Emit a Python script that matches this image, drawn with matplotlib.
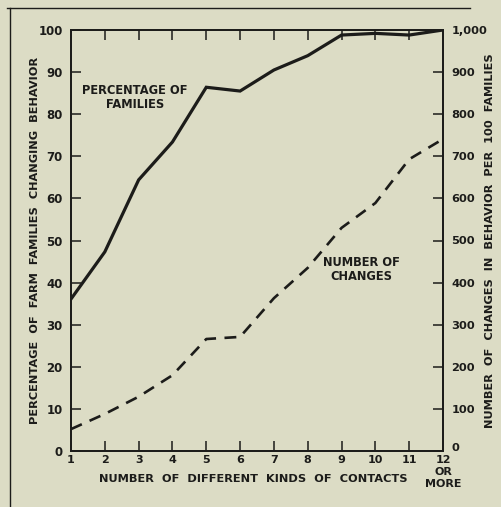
import matplotlib
matplotlib.use("Agg")
import matplotlib.pyplot as plt
from matplotlib.lines import Line2D

contacts = [1, 2, 3, 4, 5, 6, 7, 8, 9, 10, 11, 12]
x_labels = ["1", "2", "3", "4", "5", "6", "7", "8", "9", "10", "11", "12\nOR\nMORE"]
pct_families = [36.1, 47.3, 64.4, 73.4, 86.4, 85.5, 90.5, 93.9, 98.8, 99.2, 98.8, 100.0]
num_changes = [52, 88, 129, 180, 266, 271, 363, 435, 530, 589, 693, 741]
left_ticks = [0, 10, 20, 30, 40, 50, 60, 70, 80, 90, 100]
right_ticks = [0, 100, 200, 300, 400, 500, 600, 700, 800, 900, 1000]
right_tick_labels = ["0", "100", "200", "300", "400", "500", "600", "700", "800", "900", "1,000"]

bg = "#dcdcc5"
ink = "#1c1c1a"
plt.rcParams['font.family'] = ['DejaVu Sans']

fig = plt.figure(figsize=(5.02, 5.07), dpi=100, facecolor=bg)
ax = fig.add_axes([71/502, 1-451/507, (443-71)/502, (451-30)/507])
ax.set_facecolor(bg)
ax2 = ax.twinx()

ax.plot(contacts, pct_families, color=ink, lw=2.3, solid_joinstyle='miter')
ax2.plot(contacts, num_changes, color=ink, lw=1.9, dashes=(4.5, 3.2))

ax.set_xlim(1, 12)
ax.set_ylim(0, 100)
ax2.set_ylim(0, 1000)

for a in (ax, ax2):
    for s in a.spines.values():
        s.set_color(ink)
        s.set_linewidth(1.3)

ax.set_xticks(contacts)
ax.set_xticklabels(x_labels, fontsize=8, fontweight='bold', color=ink, linespacing=1.25)
ax.set_yticks(left_ticks)
ax.set_yticklabels([str(v) for v in left_ticks], fontsize=8.5, fontweight='bold', color=ink)
ax.tick_params(axis='x', direction='in', length=7, width=1.1, color=ink, top=True, pad=3)
ax.tick_params(axis='y', direction='in', length=7, width=1.1, color=ink, pad=6)
ax2.set_yticks(right_ticks)
ax2.set_yticklabels(right_tick_labels, fontsize=8.2, fontweight='bold', color=ink)
ax2.tick_params(axis='y', direction='in', length=7, width=1.1, color=ink, pad=6)
ax2.get_yticklabels()[0].set_va('baseline')
ax.get_xticklabels()[-1].set_x(12.08)

ax.set_xlabel("NUMBER  OF  DIFFERENT  KINDS  OF  CONTACTS", fontsize=8.2, fontweight='bold',
              color=ink)
ax.set_ylabel("PERCENTAGE  OF  FARM  FAMILIES  CHANGING  BEHAVIOR", fontsize=8.2, fontweight='bold',
              color=ink)
ax2.set_ylabel("NUMBER  OF  CHANGES  IN  BEHAVIOR  PER  100  FAMILIES", fontsize=8.2, fontweight='bold',
               color=ink)
ax.xaxis.label.set_va('center')
ax.xaxis.set_label_coords((253-71)/372, (451-479)/421)
ax.yaxis.label.set_va('center')
ax.yaxis.set_label_coords((35-71)/372, 0.5)
ax2.yaxis.label.set_va('center')
ax2.yaxis.set_label_coords((490-71)/372, 0.5)

ax.text(2.89, 84.0, "PERCENTAGE OF\nFAMILIES", ha='center', va='center', fontsize=8.3,
        fontweight='bold', color=ink, linespacing=1.1)
ax2.text(9.6, 432, "NUMBER OF\nCHANGES", ha='center', va='center', fontsize=8.3,
         fontweight='bold', color=ink, linespacing=1.1)

# outer frame lines
fig.add_artist(Line2D([7/502, 470/502], [1-8/507, 1-8/507], color=ink, lw=1.0,
                      transform=fig.transFigure))
fig.add_artist(Line2D([10/502, 10/502], [1-8/507, 0], color=ink, lw=1.0,
                      transform=fig.transFigure))

fig.savefig("out.png", dpi=100, facecolor=bg)
